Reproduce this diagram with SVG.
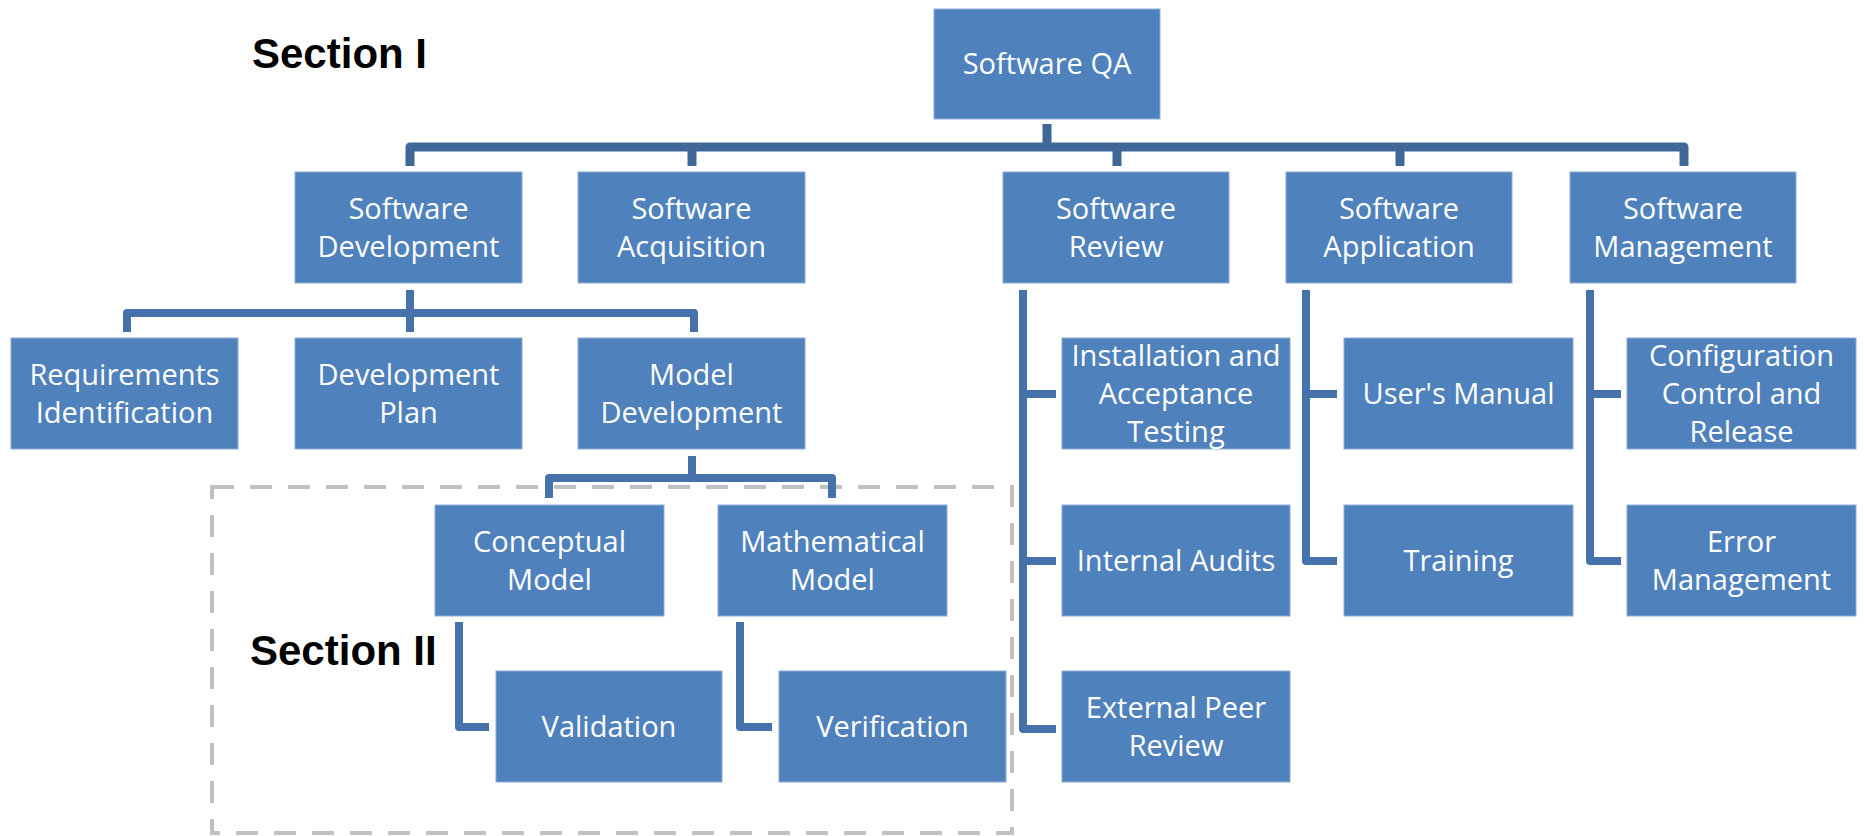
<svg xmlns="http://www.w3.org/2000/svg" width="1864" height="836" viewBox="0 0 1864 836">
<style>
.box{fill:#4F81BD;stroke:#8EABD3;stroke-width:1}
.t{font-family:"Open Sans","Liberation Sans",sans-serif;font-size:29px;fill:#FFFFFF;text-anchor:middle}
.sec{font-family:"Liberation Sans",Arial,sans-serif;font-size:42px;font-weight:bold;fill:#000000}
.c{fill:none;stroke:#4672AB;stroke-width:8;stroke-linejoin:round}
.ct{fill:none;stroke:#3F6899;stroke-width:9;stroke-linejoin:round}
</style>
<rect width="1864" height="836" fill="#FFFFFF"/>
<text class="sec" x="252" y="68">Section I</text>
<rect x="212" y="487" width="800" height="346" fill="none" stroke="#C0C0C0" stroke-width="4" stroke-dasharray="22 16"/>
<text class="sec" x="250" y="665">Section II</text>
<g id="connectors">
<path class="ct" d="M1047,124 V147 M410,166 V147 H1684 V166 M692,147 V166 M1117,147 V166 M1400,147 V166"/>
<path class="c" d="M410,290 V332 M127,332 V313 H694 V332"/>
<path class="c" d="M692,456 V478 M549,498 V478 H832 V498"/>
<path class="c" d="M459,622 V727 H489 M740,622 V727 H772"/>
<path class="c" d="M1023,290 V729 H1056 M1023,394 H1056 M1023,561 H1056"/>
<path class="c" d="M1306,290 V561 H1337 M1306,394 H1337"/>
<path class="c" d="M1590,290 V561 H1621 M1590,394 H1621"/>
</g>
<g id="n-qa"><rect class="box" x="934" y="9" width="226" height="110"/><text class="t" x="1047" y="74">Software QA</text></g>
<g id="n-dev"><rect class="box" x="295" y="172" width="227" height="111"/><text class="t" x="408.5" y="218.5">Software</text><text class="t" x="408.5" y="256.5">Development</text></g>
<g id="n-acq"><rect class="box" x="578" y="172" width="227" height="111"/><text class="t" x="691.5" y="218.5">Software</text><text class="t" x="691.5" y="256.5">Acquisition</text></g>
<g id="n-rev"><rect class="box" x="1003" y="172" width="226" height="111"/><text class="t" x="1116" y="218.5">Software</text><text class="t" x="1116" y="256.5">Review</text></g>
<g id="n-app"><rect class="box" x="1286" y="172" width="226" height="111"/><text class="t" x="1399" y="218.5">Software</text><text class="t" x="1399" y="256.5">Application</text></g>
<g id="n-mgmt"><rect class="box" x="1570" y="172" width="226" height="111"/><text class="t" x="1683" y="218.5">Software</text><text class="t" x="1683" y="256.5">Management</text></g>
<g id="n-req"><rect class="box" x="11" y="338" width="227" height="111"/><text class="t" x="124.5" y="384.5">Requirements</text><text class="t" x="124.5" y="422.5">Identification</text></g>
<g id="n-plan"><rect class="box" x="295" y="338" width="227" height="111"/><text class="t" x="408.5" y="384.5">Development</text><text class="t" x="408.5" y="422.5">Plan</text></g>
<g id="n-model"><rect class="box" x="578" y="338" width="227" height="111"/><text class="t" x="691.5" y="384.5">Model</text><text class="t" x="691.5" y="422.5">Development</text></g>
<g id="n-install"><rect class="box" x="1062" y="338" width="228" height="111"/><text class="t" x="1176" y="365.5">Installation and</text><text class="t" x="1176" y="403.5">Acceptance</text><text class="t" x="1176" y="441.5">Testing</text></g>
<g id="n-manual"><rect class="box" x="1344" y="338" width="229" height="111"/><text class="t" x="1458.5" y="403.5">User's Manual</text></g>
<g id="n-config"><rect class="box" x="1627" y="338" width="229" height="111"/><text class="t" x="1741.5" y="365.5">Configuration</text><text class="t" x="1741.5" y="403.5">Control and</text><text class="t" x="1741.5" y="441.5">Release</text></g>
<g id="n-concept"><rect class="box" x="435" y="505" width="229" height="111"/><text class="t" x="549.5" y="551.5">Conceptual</text><text class="t" x="549.5" y="589.5">Model</text></g>
<g id="n-math"><rect class="box" x="718" y="505" width="229" height="111"/><text class="t" x="832.5" y="551.5">Mathematical</text><text class="t" x="832.5" y="589.5">Model</text></g>
<g id="n-audit"><rect class="box" x="1062" y="505" width="228" height="111"/><text class="t" x="1176" y="570.5">Internal Audits</text></g>
<g id="n-train"><rect class="box" x="1344" y="505" width="229" height="111"/><text class="t" x="1458.5" y="570.5">Training</text></g>
<g id="n-error"><rect class="box" x="1627" y="505" width="229" height="111"/><text class="t" x="1741.5" y="551.5">Error</text><text class="t" x="1741.5" y="589.5">Management</text></g>
<g id="n-valid"><rect class="box" x="496" y="671" width="226" height="111"/><text class="t" x="609" y="736.5">Validation</text></g>
<g id="n-verif"><rect class="box" x="779" y="671" width="227" height="111"/><text class="t" x="892.5" y="736.5">Verification</text></g>
<g id="n-peer"><rect class="box" x="1062" y="671" width="228" height="111"/><text class="t" x="1176" y="717.5">External Peer</text><text class="t" x="1176" y="755.5">Review</text></g>
</svg>
